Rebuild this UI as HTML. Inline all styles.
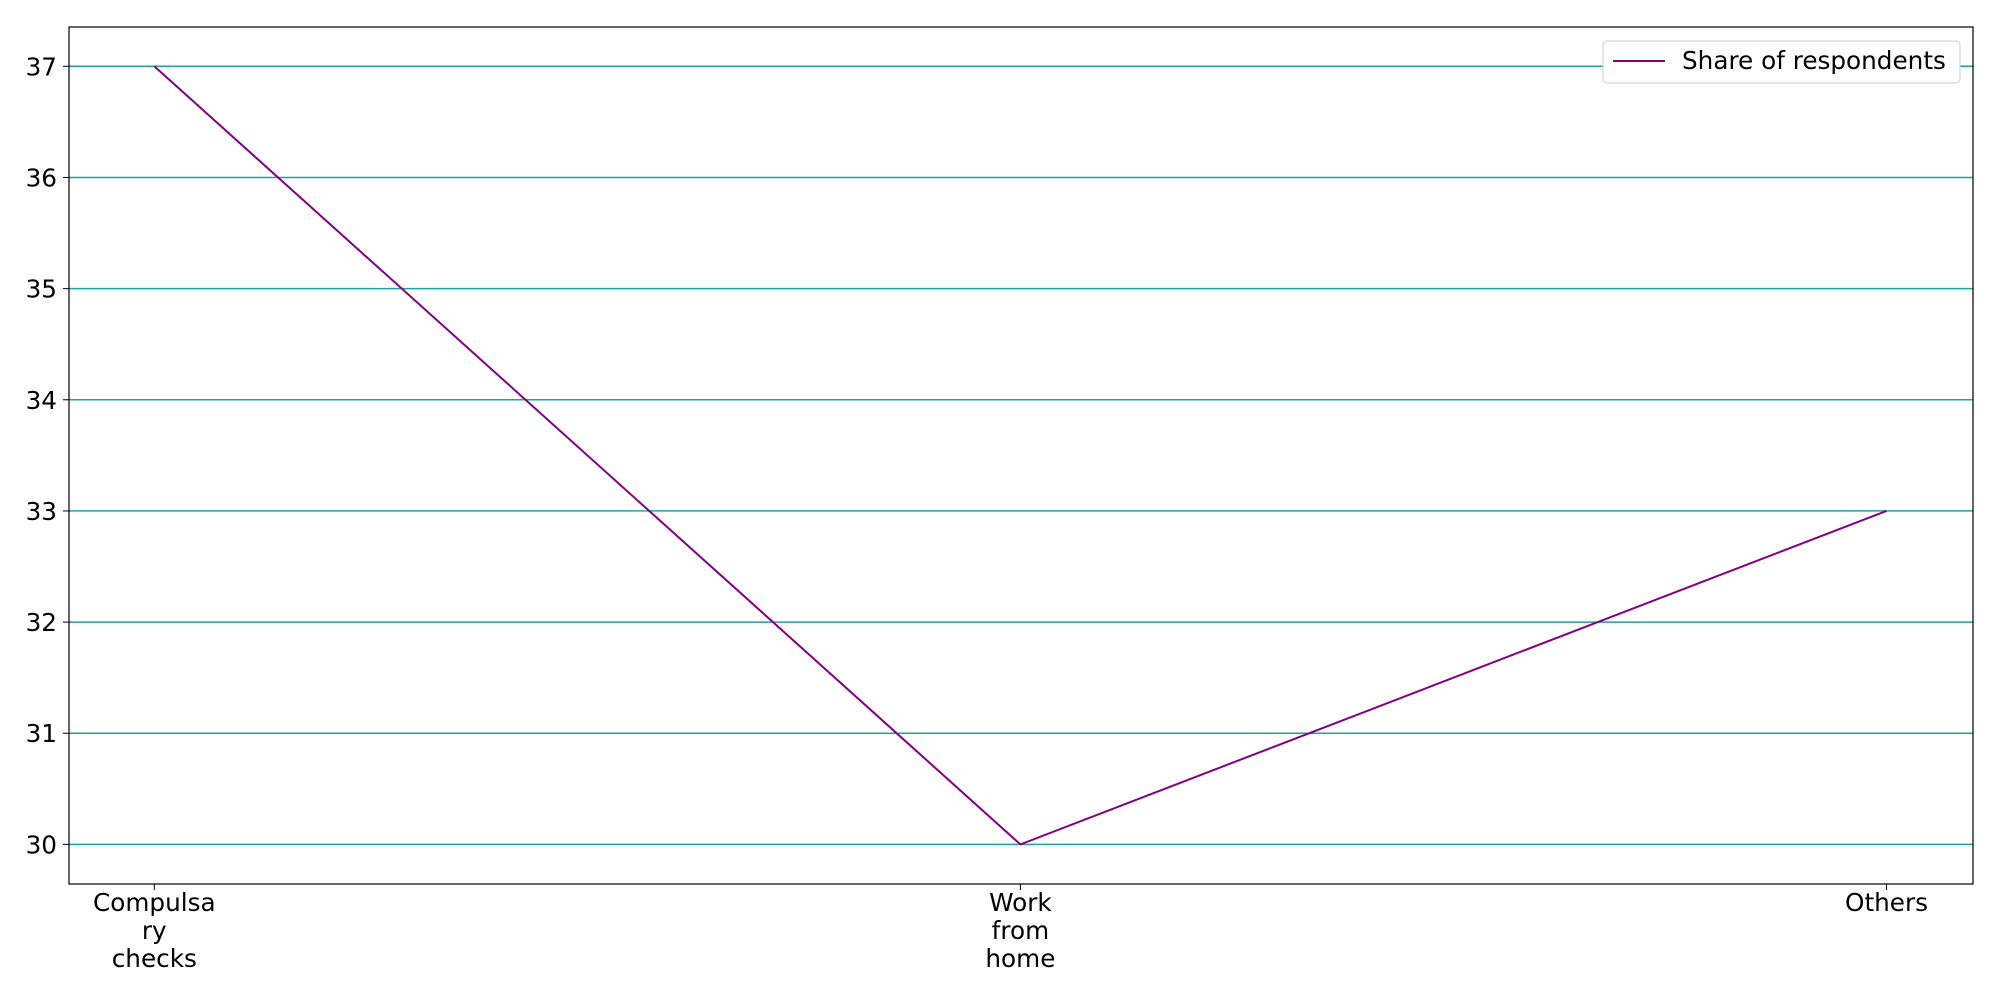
<!DOCTYPE html>
<html><head><meta charset="utf-8"><style>
body{margin:0;background:#fff;}
svg text{font-family:"DejaVu Sans","Liberation Sans",sans-serif;font-size:24.7px;fill:#000;}
</style></head><body>
<svg id="chart" width="2000" height="1000" xmlns="http://www.w3.org/2000/svg">
<rect x="0" y="0" width="2000" height="1000" fill="#fff"/>
<g id="grid"></g><g id="series"></g><g id="axes"></g>
<g>
<rect x="1603" y="41" width="357" height="42" rx="4" fill="#fff" stroke="#ccc"/>
<line x1="1613" y1="61" x2="1665" y2="61" stroke="#800080" stroke-width="2"/>
<text x="1682" y="69">Share of respondents</text>
</g>
</svg>
<script>
const categories=[["Compulsa","ry","checks"],["Work","from","home"],["Others"]];
const values=[37,30,33];
const yTicks=[30,31,32,33,34,35,36,37];
const L=69,R=1973,T=27,B=884;
const NS="http://www.w3.org/2000/svg";
function xs(i){return 154.3+i*(1886.5-154.3)/(categories.length-1);}
function ys(v){return 844.4-(v-30)*(844.4-66.3)/7;}
function mk(t,a,p){const e=document.createElementNS(NS,t);for(const k in a)e.setAttribute(k,a[k]);p.appendChild(e);return e;}
const grid=document.getElementById('grid'),axes=document.getElementById('axes'),ser=document.getElementById('series');
yTicks.forEach(v=>{
 const g=mk('line',{x1:L,x2:R,y1:ys(v),y2:ys(v),stroke:'#20a0a0','stroke-width':1.5},grid);
 
 
 mk('line',{x1:L-6,x2:L,y1:ys(v),y2:ys(v),stroke:'#000'},axes);
 const t=mk('text',{x:L-12,y:ys(v)+9,'text-anchor':'end'},axes);t.textContent=v;
 
 
});
categories.forEach((c,i)=>{
 mk('line',{x1:xs(i),x2:xs(i),y1:B,y2:B+6,stroke:'#000'},axes);
 c.forEach((s,j)=>{const t=mk('text',{x:xs(i),y:B+27+j*28,'text-anchor':'middle'},axes);t.textContent=s;
 
 });
});
const fr=mk('rect',{x:L,y:T,width:R-L,height:B-T,fill:'none',stroke:'#000','stroke-width':1.2},axes);


const pl=mk('polyline',{points:values.map((v,i)=>xs(i)+','+ys(v)).join(' '),fill:'none',stroke:'#800080','stroke-width':2},ser);


</script>
</body></html>
